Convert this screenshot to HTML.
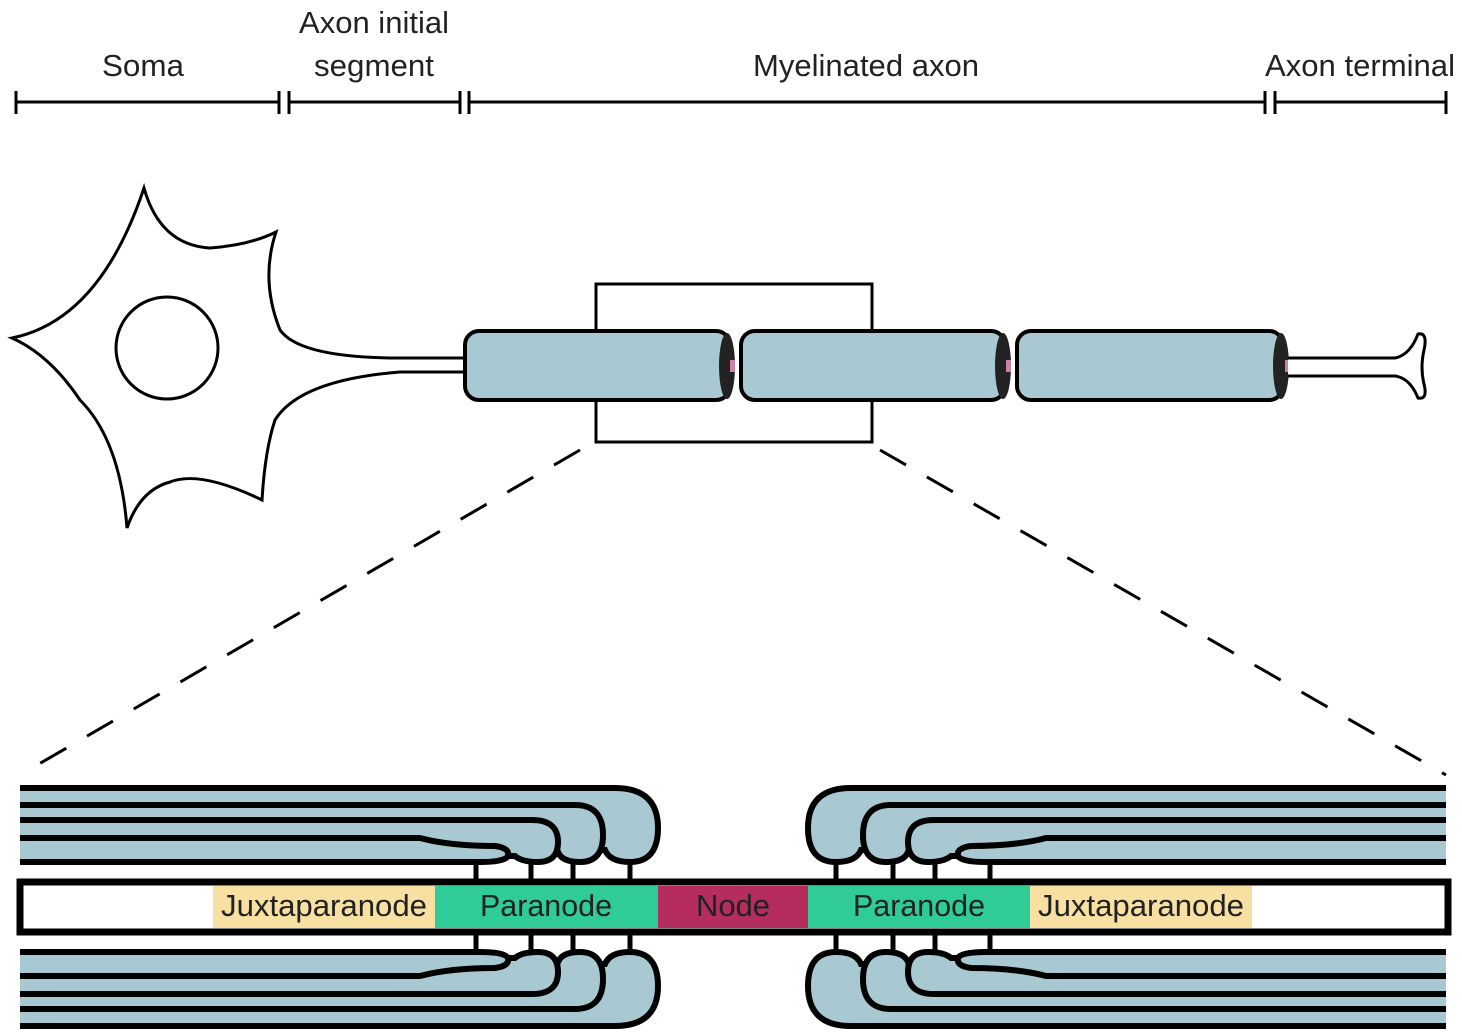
<!DOCTYPE html>
<html><head><meta charset="utf-8"><style>
html,body{margin:0;padding:0;background:#fff;}
svg{display:block;}
text{font-family:"Liberation Sans",sans-serif;font-size:31px;fill:#222;}
</style></head><body>
<svg width="1462" height="1032" viewBox="0 0 1462 1032" xmlns="http://www.w3.org/2000/svg">
<!-- scale bar -->
<g stroke="#000" stroke-width="3" fill="none">
<line x1="16" y1="102" x2="279" y2="102"/><line x1="16" y1="91" x2="16" y2="114"/><line x1="279" y1="91" x2="279" y2="114"/>
<line x1="289" y1="102" x2="460" y2="102"/><line x1="289" y1="91" x2="289" y2="114"/><line x1="460" y1="91" x2="460" y2="114"/>
<line x1="469" y1="102" x2="1265" y2="102"/><line x1="469" y1="91" x2="469" y2="114"/><line x1="1265" y1="91" x2="1265" y2="114"/>
<line x1="1275" y1="102" x2="1446" y2="102"/><line x1="1275" y1="91" x2="1275" y2="114"/><line x1="1446" y1="91" x2="1446" y2="114"/>
</g>
<g lengthAdjust="spacingAndGlyphs">
<text x="143" y="76" text-anchor="middle" textLength="82" lengthAdjust="spacingAndGlyphs">Soma</text>
<text x="374" y="33" text-anchor="middle" textLength="150" lengthAdjust="spacingAndGlyphs">Axon initial</text>
<text x="374" y="76" text-anchor="middle" textLength="120" lengthAdjust="spacingAndGlyphs">segment</text>
<text x="866" y="76" text-anchor="middle" textLength="226" lengthAdjust="spacingAndGlyphs">Myelinated axon</text>
<text x="1360" y="76" text-anchor="middle" textLength="190" lengthAdjust="spacingAndGlyphs">Axon terminal</text>
</g>

<!-- soma -->
<path d="M12,338 Q100,320 144,188 Q160,245 210,248 Q250,245 276,232 Q260,280 280,330 Q300,358 400,358 L465,358 L465,372 L400,372 Q300,380 275,420 Q265,450 262,500 Q200,470 170,482 Q140,490 127,528 Q120,440 80,400 Q50,355 12,338 Z" fill="#fff" stroke="#000" stroke-width="3"/>
<circle cx="167" cy="348" r="51" fill="none" stroke="#000" stroke-width="3"/>

<rect x="596" y="284" width="276" height="158" fill="none" stroke="#000" stroke-width="3"/>

<g fill="#a8c9d2" stroke="#000" stroke-width="4">
<rect x="465" y="331" width="265" height="69" rx="14"/>
<rect x="741" y="331" width="264" height="69" rx="14"/>
<rect x="1017" y="331" width="266" height="69" rx="14"/>
</g>
<g fill="#222">
<ellipse cx="727" cy="366" rx="8" ry="33"/>
<ellipse cx="1003" cy="366" rx="8" ry="33"/>
<ellipse cx="1281" cy="366" rx="8" ry="33"/>
</g>
<g fill="#d080a0"><rect x="730" y="360" width="5" height="12"/><rect x="1006" y="360" width="5" height="12"/><rect x="1285" y="360" width="5" height="12"/></g>
<path d="M1288,358 L1395,358 Q1410,355 1418,334 Q1428,332 1424,350 Q1420,368 1424,384 Q1428,400 1418,398 Q1410,378 1395,376 L1288,376" fill="#fff" stroke="#000" stroke-width="3"/>

<line x1="580" y1="450" x2="20" y2="775" stroke="#000" stroke-width="3" stroke-dasharray="30,24"/>
<line x1="880" y1="450" x2="1446" y2="775" stroke="#000" stroke-width="3" stroke-dasharray="30,24"/>

<defs>
<clipPath id="cl" clipPathUnits="userSpaceOnUse"><rect x="20" y="700" width="720" height="200"/></clipPath>
<g id="lam">
<g clip-path="url(#cl)" stroke="#000" stroke-width="6" fill="#a8c9d2">
<path d="M0,788 L615,788 Q658,788 658,828 Q658,862 630,862 Q610,862 605,850 L0,850 Z"/>
<path d="M0,805 L575,805 Q603,805 603,835 Q603,862 580,862 Q562,862 558,852 L0,852 Z"/>
<path d="M0,820 L532,820 Q558,820 558,842 Q558,862 538,862 Q522,862 515,856 L0,856 Z"/>
<path d="M0,838 L420,838 Q450,846 495,846 Q510,848 508,856 Q505,862 480,862 L0,862 Z"/>
</g>
<g stroke="#000" stroke-width="5">
<line x1="476" y1="860" x2="476" y2="882"/><line x1="531" y1="860" x2="531" y2="882"/>
<line x1="573" y1="860" x2="573" y2="882"/><line x1="630" y1="860" x2="630" y2="882"/>
</g>
</g>
</defs>
<use href="#lam"/>
<use href="#lam" transform="translate(0,1814) scale(1,-1)"/>
<use href="#lam" transform="translate(1466,0) scale(-1,1)"/>
<use href="#lam" transform="translate(1466,1814) scale(-1,-1)"/>

<rect x="20" y="882" width="1428" height="50" fill="#fff" stroke="#000" stroke-width="7"/>
<rect x="213" y="886" width="222" height="42" fill="#f7e0a2"/>
<rect x="435" y="886" width="223" height="42" fill="#2fcc98"/>
<rect x="658" y="886" width="150" height="42" fill="#b52d5e"/>
<rect x="808" y="886" width="222" height="42" fill="#2fcc98"/>
<rect x="1030" y="886" width="222" height="42" fill="#f7e0a2"/>
<text x="324" y="916" text-anchor="middle" textLength="206" lengthAdjust="spacingAndGlyphs">Juxtaparanode</text>
<text x="546" y="916" text-anchor="middle" textLength="132" lengthAdjust="spacingAndGlyphs">Paranode</text>
<text x="733" y="916" text-anchor="middle" textLength="74" lengthAdjust="spacingAndGlyphs">Node</text>
<text x="919" y="916" text-anchor="middle" textLength="132" lengthAdjust="spacingAndGlyphs">Paranode</text>
<text x="1141" y="916" text-anchor="middle" textLength="206" lengthAdjust="spacingAndGlyphs">Juxtaparanode</text>
</svg>
</body></html>
